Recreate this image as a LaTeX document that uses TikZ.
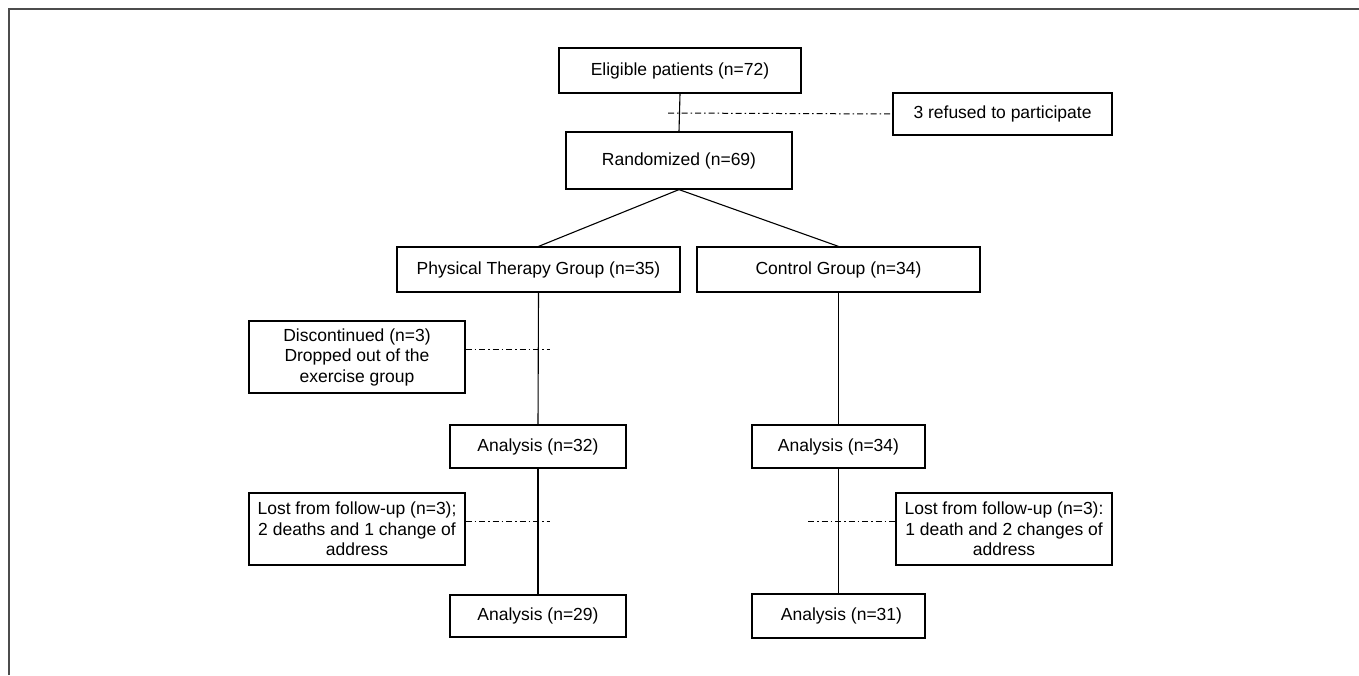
\documentclass[tikz,border=0pt]{standalone}
\usepackage{fontspec}
\setmainfont{Liberation Sans}
\begin{document}
\begin{tikzpicture}[x=1pt,y=-1pt,
  box/.style={draw=black, line width=1.2pt, rectangle, inner sep=0pt, align=center,
    font=\fontsize{17.5}{20.5}\selectfont},
  conn/.style={draw=black, line width=1.1pt},
  dd/.style={draw=black, line width=1pt, dash pattern=on 6pt off 3pt on 1.5pt off 3pt},
  frame/.style={draw=black!70, line width=1.6pt}]
\useasboundingbox (0,0) rectangle (1359,675);
\draw[frame] (9,675) -- (9,9) -- (1359,9);

\node[box, minimum width=242pt, minimum height=45pt] (elig) at (680,70.5) {Eligible patients (n=72)};
\node[box, minimum width=219pt, minimum height=42pt] (refused) at (1002.5,114) {3 refused to participate};
\node[box, minimum width=226pt, minimum height=57pt] (rand) at (679,160.5) {Randomized (n=69)};
\node[box, minimum width=283pt, minimum height=45pt] (ptg) at (538.5,269.5) {Physical Therapy Group (n=35)};
\node[box, minimum width=283pt, minimum height=45pt] (ctrl) at (838.5,269.5) {Control Group (n=34)};
\node[box, minimum width=216pt, minimum height=72pt] (disc) at (357,357) {Discontinued (n=3)\\Dropped out of the\\exercise group};
\node[box, minimum width=176pt, minimum height=43pt] (an32) at (538,446.5) {Analysis (n=32)};
\node[box, minimum width=173pt, minimum height=43pt] (an34) at (838.5,446.5) {Analysis (n=34)};
\node[box, minimum width=216pt, minimum height=72pt] (lostL) at (357,529) {Lost from follow-up (n=3);\\2 deaths and 1 change of\\address};
\node[box, minimum width=176pt, minimum height=42pt] (an29) at (538,616) {Analysis (n=29)};
\node[box, minimum width=216pt, minimum height=72pt] (lostR) at (1004,529) {Lost from follow-up (n=3):\\1 death and 2 changes of\\address};
\node[box, minimum width=173pt, minimum height=44pt] (an31) at (838.5,616) {\hspace{6pt}Analysis (n=31)};

\coordinate (d0) at (668,113);
\coordinate (d1) at (550,349);
\coordinate (d2) at (550,521);
\coordinate (d3) at (808,521);

\draw[conn] (elig.south) -- (rand.north);
\draw[conn] (rand.south) -- (ptg.north);
\draw[conn] (rand.south) -- (ctrl.north);
\draw[conn] (ptg.south) -- (an32.north);
\draw[conn] (an32.south) -- (an29.north);
\draw[conn] (ctrl.south) -- (an34.north);
\draw[conn] (an34.south) -- (an31.north);

\draw[dd] (d0) -- (refused.west);
\draw[dd] (disc.east |- d1) -- (d1);
\draw[dd] (lostL.east |- d2) -- (d2);
\draw[dd] (d3) -- (lostR.west |- d3);
\end{tikzpicture}
\end{document}
